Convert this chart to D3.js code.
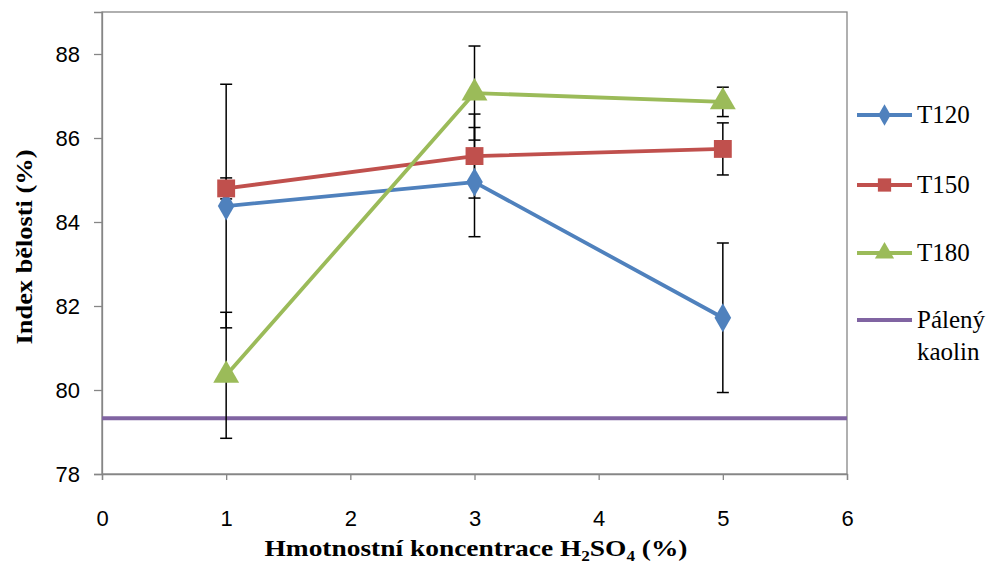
<!DOCTYPE html>
<html>
<head>
<meta charset="utf-8">
<script src="https://cdn.jsdelivr.net/npm/d3@7"></script>
<style>
  html, body { margin: 0; padding: 0; background: #fff; }
  svg { display: block; }
  .tick text { font-family: "Liberation Sans", Arial, sans-serif; font-size: 22px; fill: #000; }
</style>
</head>
<body>
<svg id="chart" width="996" height="566"></svg>
<script>
// Sulphuric acid concentration (wt. %) on the x axis
const concentrations = [1, 3, 5];

// Whiteness index (%) per treatment temperature, with error bar half-widths
const t120 = [84.38, 84.95, 81.72];
const t120Err = [2.9, 1.3, 1.78];
const t150 = [84.8, 85.57, 85.74];
const t150Err = [0.25, 1.0, 0.62];
const t180 = [80.35, 87.07, 86.86];
const t180Err = [1.5, 1.12, 0.35];

// Reference level: calcined kaolin
const kaolinLevel = 79.33;

const xTicks = [0, 1, 2, 3, 4, 5, 6];
const yTicks = [78, 80, 82, 84, 86, 88];

const seriesNames = ["T120", "T150", "T180"];
const seriesColors = ["#4F81BD", "#C0504D", "#9BBB59"];
const kaolinName = ["Pálený", "kaolin"];
const kaolinColor = "#8064A2";

const series = seriesNames.map((name, i) => ({
  name,
  color: seriesColors[i],
  values: [t120, t150, t180][i],
  errs: [t120Err, t150Err, t180Err][i],
  shape: [d3.symbolDiamond, d3.symbolSquare, d3.symbolTriangle][i]
}));

const svg = d3.select("#chart");
const margin = { left: 102, right: 149, top: 12, bottom: 92 };
const W = 996, H = 566;

const x = d3.scaleLinear().domain([0, 6]).range([margin.left, W - margin.right]);
const y = d3.scaleLinear().domain([78, 89]).range([H - margin.bottom, margin.top]);

const axisColor = "#868686";
const serif = "'Liberation Serif', 'Times New Roman', serif";

// Plot area frame
svg.append("rect")
  .attr("x", x(0)).attr("y", y(89))
  .attr("width", x(6) - x(0)).attr("height", y(78) - y(89))
  .attr("fill", "none").attr("stroke", axisColor).attr("stroke-width", 1.3);

// Axes
const yAxis = svg.append("g")
  .attr("transform", `translate(${x(0)},0)`)
  .call(d3.axisLeft(y).tickValues(yTicks).tickSize(8).tickPadding(14).tickFormat(d3.format("d")));
const xAxis = svg.append("g")
  .attr("transform", `translate(0,${y(78)})`)
  .call(d3.axisBottom(x).tickValues(xTicks).tickSize(6).tickPadding(30).tickFormat(d3.format("d")));
[yAxis, xAxis].forEach(g => {
  g.select(".domain").attr("stroke", axisColor).attr("stroke-width", 1.3);
  g.selectAll(".tick line").attr("stroke", axisColor).attr("stroke-width", 1.3);
});
yAxis.selectAll(".tick text").attr("dy", "0.36em");

// Calcined kaolin reference line
svg.append("line")
  .attr("x1", x(0)).attr("x2", x(6))
  .attr("y1", y(kaolinLevel)).attr("y2", y(kaolinLevel))
  .attr("stroke", kaolinColor).attr("stroke-width", 4);

// Error bars
const capHalf = 6;
series.forEach(s => {
  const g = svg.append("g").attr("class", "err");
  concentrations.forEach((c, i) => {
    const lo = s.values[i] - s.errs[i], hi = s.values[i] + s.errs[i];
    g.append("line").attr("x1", x(c)).attr("x2", x(c)).attr("y1", y(lo)).attr("y2", y(hi))
      .attr("stroke", "#000").attr("stroke-width", 1.5);
    [lo, hi].forEach(v => g.append("line")
      .attr("x1", x(c) - capHalf).attr("x2", x(c) + capHalf)
      .attr("y1", y(v)).attr("y2", y(v))
      .attr("stroke", "#000").attr("stroke-width", 1.5));
  });
});

// Series lines and markers
const line = d3.line().x((d, i) => x(concentrations[i])).y(d => y(d));
const symbolSizes = [240, 320, 290];
series.forEach((s, k) => {
  svg.append("path").datum(s.values)
    .attr("d", line).attr("fill", "none")
    .attr("stroke", s.color).attr("stroke-width", 3.8).attr("stroke-linejoin", "round");
  svg.append("g").selectAll("path").data(s.values).join("path")
    .attr("transform", (d, i) => `translate(${x(concentrations[i])},${y(d)})`)
    .attr("d", d3.symbol(s.shape, symbolSizes[k]))
    .attr("fill", s.color);
});

// Legend
const legend = svg.append("g").attr("font-family", serif).attr("font-size", 25);
const legendY = [115, 185, 253, 320];
const lx1 = 857, lx2 = 912;
series.forEach((s, k) => {
  const ly = legendY[k];
  legend.append("line").attr("x1", lx1).attr("x2", lx2).attr("y1", ly).attr("y2", ly)
    .attr("stroke", s.color).attr("stroke-width", 3.8);
  legend.append("path").attr("transform", `translate(${(lx1 + lx2) / 2},${ly})`)
    .attr("d", d3.symbol(s.shape, symbolSizes[k] * 0.55)).attr("fill", s.color);
  legend.append("text").attr("x", 917).attr("y", ly + 8).text(s.name);
});
legend.append("line").attr("x1", lx1).attr("x2", lx2).attr("y1", legendY[3]).attr("y2", legendY[3])
  .attr("stroke", kaolinColor).attr("stroke-width", 4);
legend.append("text").attr("x", 917).attr("y", legendY[3] + 8).text(kaolinName[0]);
legend.append("text").attr("x", 917).attr("y", legendY[3] + 40).text(kaolinName[1]);

// Axis titles
svg.append("text")
  .attr("transform", `translate(32,247) rotate(-90)`)
  .attr("text-anchor", "middle")
  .attr("font-family", serif)
  .attr("font-weight", "bold").attr("font-size", 24)
  .attr("textLength", 195).attr("lengthAdjust", "spacingAndGlyphs")
  .text("Index bělosti (%)");

const xt = svg.append("text")
  .attr("x", 476).attr("y", 556)
  .attr("text-anchor", "middle")
  .attr("font-family", serif)
  .attr("font-weight", "bold").attr("font-size", 24)
  .attr("textLength", 423).attr("lengthAdjust", "spacingAndGlyphs");
xt.append("tspan").text("Hmotnostní koncentrace H");
xt.append("tspan").attr("font-size", 15).attr("dy", 5).text("2");
xt.append("tspan").attr("dy", -5).text("SO");
xt.append("tspan").attr("font-size", 15).attr("dy", 5).text("4");
xt.append("tspan").attr("dy", -5).text(" (%)");
</script>
</body>
</html>
